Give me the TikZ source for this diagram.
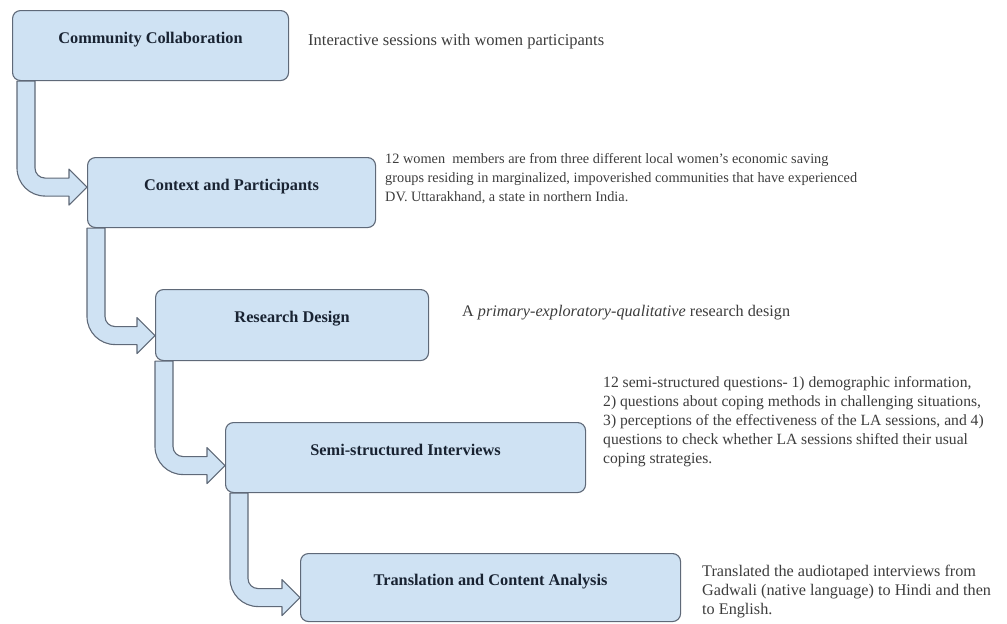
\documentclass[tikz,border=0pt]{standalone}
\usepackage{fontspec}
\setmainfont{Liberation Serif}
\usepackage{tikz}
\usetikzlibrary{calc}
\definecolor{boxfill}{RGB}{207,226,243}
\definecolor{boxline}{RGB}{95,105,120}
\definecolor{titletext}{RGB}{25,35,50}
\definecolor{notetext}{RGB}{60,60,60}
\newcommand{\titlefont}{\fontsize{16.3}{19}\selectfont\bfseries}
% bent block arrow: from box, to box, shaft x offset, tip y offset
\newcommand{\bentarrow}[4]{%
  \path[flow] let \p1=($(#1.south west)+(#3pt,0)$), \p2=($(#2.west)+(0,#4pt)$) in
    ({\x1+18pt},\y1) -- ({\x1+18pt},{\y2+19pt})
    arc[start angle=180, end angle=270, radius=10pt]
    -- ({\x2-18pt},{\y2+9pt}) -- ({\x2-18pt},{\y2+18pt})
    -- (\x2,\y2) -- ({\x2-18pt},{\y2-18pt})
    -- ({\x2-18pt},{\y2-9pt}) -- ({\x1+28pt},{\y2-9pt})
    arc[start angle=270, end angle=180, radius=28pt]
    -- (\x1,\y1) -- cycle;}

\begin{document}
\begin{tikzpicture}[x=1pt, y=1pt,
    stepbox/.style={draw=boxline, fill=boxfill, rounded corners=8pt, line width=1.1pt,
      anchor=north west, font=\titlefont, text=titletext, text height=12pt, text depth=17pt},
    note/.style={anchor=west, align=left, inner sep=0pt, font=\fontsize{#1}{19}\selectfont, text=notetext},
    note/.default=15.6,
    flow/.style={draw=boxline, fill=boxfill, line width=1.1pt, line join=round}
  ]
  \useasboundingbox (0,0) rectangle (1007,-624);

  \node[stepbox, minimum width=276pt, minimum height=70pt] (collab) at (12,-10) {Community Collaboration};
  \node[stepbox, minimum width=288pt, minimum height=70pt] (context) at (87,-157) {Context and Participants};
  \node[stepbox, minimum width=273pt, minimum height=71pt] (design) at (155,-289) {Research Design};
  \node[stepbox, minimum width=360pt, minimum height=70pt] (interview) at (225,-422) {Semi-structured Interviews};
  \node[stepbox, minimum width=380pt, minimum height=68pt] (analysis) at (300,-553) {Translation and Content Analysis};

  \bentarrow{collab}{context}{5}{5.5}
  \bentarrow{context}{design}{0}{-10.5}
  \bentarrow{design}{interview}{0}{-8}
  \bentarrow{interview}{analysis}{5}{-10}

  \node[note=16.5] (collabnote) at (308,-42) {Interactive sessions with women participants};
  \node[note=14.3] (contextnote) at (385,-179) {12 women\ \ members are from three different local women's economic saving\\
    groups residing in marginalized, impoverished communities that have experienced\\
    DV. Uttarakhand, a state in northern India.};
  \node[note=16.2] (designnote) at (462,-313) {A \textit{primary-exploratory-qualitative} research design};
  \node[note] (interviewnote) at (603,-422) {12 semi-structured questions- 1) demographic information,\\
    2) questions about coping methods in challenging situations,\\
    3) perceptions of the effectiveness of the LA sessions, and 4)\\
    questions to check whether LA sessions shifted their usual\\
    coping strategies.};
  \node[note=16.2] (analysisnote) at (702,-592) {Translated the audiotaped interviews from\\
    Gadwali (native language) to Hindi and then\\
    to English.};
\end{tikzpicture}
\end{document}
